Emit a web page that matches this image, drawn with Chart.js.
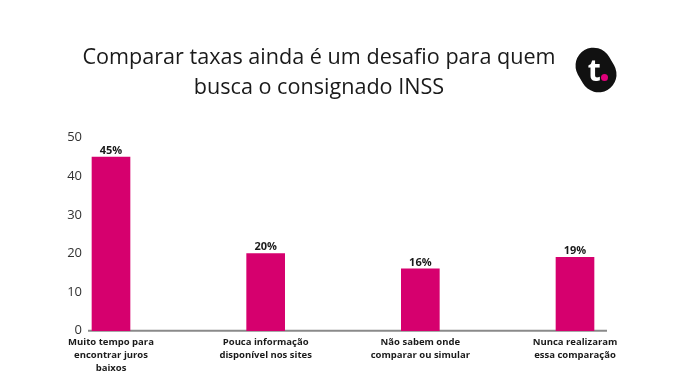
<!DOCTYPE html>
<html><head><meta charset="utf-8">
<script src="https://cdn.jsdelivr.net/npm/chart.js@4.4.1/dist/chart.umd.min.js"></script>
<style>
html,body{margin:0;padding:0;background:#fff;}
#wrap{position:relative;width:686px;height:390px;}
#logo{position:absolute;left:578px;top:47px;width:36px;height:46px;border-radius:18px;background:#111;transform:rotate(-30deg);}
#logo span{position:absolute;left:10px;top:4px;color:#fff;font:bold 30px "Open Sans",sans-serif;transform:rotate(30deg);line-height:36px;}
#dot{position:absolute;left:601px;top:74px;width:7px;height:7px;border-radius:50%;background:#e0007a;}
</style></head>
<body><div id="wrap"><canvas id="c" width="686" height="390"></canvas><div id="logo"><span>t</span></div><div id="dot"></div></div>
<script>
const categories = [
  ["Muito tempo para","encontrar juros","baixos"],
  ["Pouca informação","disponível nos sites"],
  ["Não sabem onde","comparar ou simular"],
  ["Nunca realizaram","essa comparação"]
];
const values = [45, 20, 16, 19];
const valueLabels = ["45%","20%","16%","19%"];
const yTicks = [0,10,20,30,40,50];
const titleLines = ["Comparar taxas ainda é um desafio para quem","busca o consignado INSS"];

const barColor = "#d6006e";

const dataLabelPlugin = {
  id:'dataLabels',
  afterDatasetsDraw(chart){
    const ctx = chart.ctx;
    const meta = chart.getDatasetMeta(0);
    ctx.save();
    ctx.font = 'bold 11px "Open Sans", sans-serif';
    ctx.fillStyle = '#1a1a1a';
    ctx.textAlign = 'center';
    ctx.textBaseline = 'bottom';
    meta.data.forEach((bar,i)=>{
      ctx.fillText(valueLabels[i], bar.x, bar.y - 1);
    });
    ctx.restore();
  }
};
const axisLinePlugin = {
  id:'axisLine',
  beforeDatasetsDraw(chart){
    const ctx = chart.ctx;
    const y0 = chart.scales.y.getPixelForValue(0);
    const a = chart.chartArea;
    ctx.save();
    ctx.strokeStyle = '#8a8a8a';
    ctx.lineWidth = 2;
    ctx.beginPath();
    ctx.moveTo(a.left - 23, y0);
    ctx.lineTo(a.right + 32, y0);
    ctx.stroke();
    ctx.restore();
  }
};

new Chart(document.getElementById('c'), {
  type:'bar',
  data:{labels:categories, datasets:[{data:values, backgroundColor:barColor, barThickness:38, clip:false}]},
  options:{
    responsive:false, animation:false,
    layout:{padding:{left:63, right:111, top:0, bottom:10}},
    plugins:{
      legend:{display:false}, tooltip:{enabled:false},
      title:{display:true, text:titleLines, color:'#1a1a1a',
        font:{family:'"Open Sans", sans-serif', size:21.6, weight:'normal', lineHeight:1.43},
        padding:{top:42, bottom:34}}
    },
    scales:{
      x:{offset:false, grid:{display:false, drawTicks:false, tickLength:0}, border:{display:false},
        ticks:{maxRotation:0, autoSkip:false, padding:5, color:'#1a1a1a',
          font:{family:'"Open Sans", sans-serif', size:9.5, weight:'bold', lineHeight:1.38}}},
      y:{min:0, max:50, grid:{display:false}, border:{display:false},
        afterFit(s){ s.width = 48; },
        afterBuildTicks(s){ s.ticks = yTicks.map(v=>({value:v})); },
        ticks:{padding:21, color:'#333', font:{family:'"Open Sans", sans-serif', size:13}}}
    }
  },
  plugins:[dataLabelPlugin, axisLinePlugin]
});
</script></body></html>
